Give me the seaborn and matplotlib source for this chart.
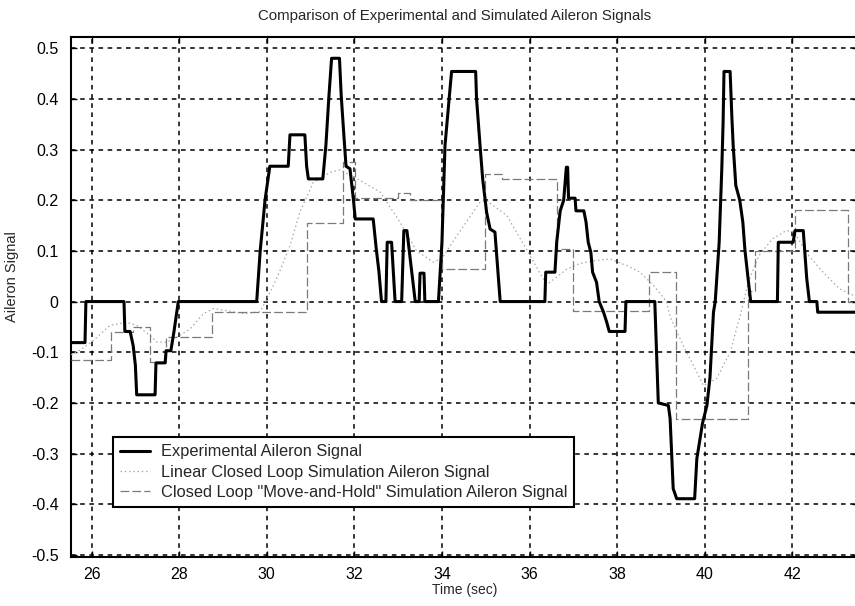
import numpy as np
import pandas as pd
import matplotlib
matplotlib.use("Agg")
import matplotlib.pyplot as plt
import seaborn as sns

# ---------------- data ----------------
exp_t = [25.53, 25.85, 25.87, 26.74, 26.76, 26.88, 26.95, 27.00, 27.03, 27.45, 27.47, 27.68,
         27.70, 27.81, 27.88, 27.98, 29.77, 29.85, 29.92, 29.96, 30.07, 30.49, 30.53, 30.87,
         30.91, 30.95, 31.28, 31.35, 31.42, 31.48, 31.66, 31.70, 31.76, 31.81, 31.90, 31.98,
         32.02, 32.43, 32.50, 32.56, 32.62, 32.72, 32.75, 32.85, 32.93, 33.08, 33.13, 33.20,
         33.39, 33.48, 33.50, 33.59, 33.61, 33.92, 34.00, 34.07, 34.17, 34.22, 34.77, 34.79,
         34.87, 34.93, 35.02, 35.10, 35.21, 35.33, 36.35, 36.37, 36.58, 36.62, 36.70, 36.78,
         36.84, 36.87, 36.89, 37.04, 37.06, 37.24, 37.29, 37.34, 37.40, 37.44, 37.53, 37.59,
         37.69, 37.76, 37.82, 38.18, 38.20, 38.86, 38.90, 38.94, 39.17, 39.21, 39.28, 39.36,
         39.77, 39.82, 39.95, 40.05, 40.12, 40.20, 40.24, 40.33, 40.39, 40.42, 40.44, 40.58,
         40.62, 40.65, 40.71, 40.80, 40.87, 40.92, 41.00, 41.05, 41.66, 41.68, 42.02, 42.06,
         42.25, 42.33, 42.39, 42.56, 42.58, 43.50]
exp_y = [-0.081, -0.081, 0.000, 0.000, -0.059, -0.059, -0.087, -0.126, -0.184, -0.184, -0.121, -0.121,
         -0.097, -0.097, -0.060, 0.000, 0.000, 0.100, 0.163, 0.200, 0.267, 0.267, 0.329, 0.329,
         0.267, 0.242, 0.242, 0.308, 0.406, 0.480, 0.480, 0.406, 0.329, 0.267, 0.262, 0.200,
         0.163, 0.163, 0.104, 0.060, 0.000, 0.000, 0.117, 0.117, 0.000, 0.000, 0.140, 0.140,
         0.000, 0.000, 0.056, 0.056, 0.000, 0.000, 0.117, 0.308, 0.406, 0.454, 0.454, 0.400,
         0.308, 0.242, 0.176, 0.143, 0.137, 0.000, 0.000, 0.058, 0.058, 0.117, 0.179, 0.200,
         0.265, 0.265, 0.204, 0.204, 0.179, 0.179, 0.157, 0.117, 0.097, 0.058, 0.038, 0.000,
         -0.021, -0.040, -0.059, -0.059, 0.000, 0.000, -0.100, -0.200, -0.205, -0.231, -0.369, -0.389,
         -0.389, -0.310, -0.240, -0.205, -0.150, -0.021, 0.000, 0.117, 0.262, 0.354, 0.454, 0.454,
         0.364, 0.308, 0.229, 0.200, 0.157, 0.100, 0.038, 0.000, 0.000, 0.117, 0.117, 0.140,
         0.140, 0.045, 0.000, 0.000, -0.021, -0.021]

lin_t = [25.53, 25.75, 26.04, 26.42, 26.80, 27.03, 27.34, 27.49, 27.72, 27.95, 28.25, 28.55,
         28.78, 29.09, 29.47, 29.85, 30.00, 30.25, 30.53, 30.76, 31.06, 31.45, 31.67, 32.13,
         32.59, 33.04, 33.42, 33.80, 34.00, 34.34, 34.87, 35.00, 35.48, 36.01, 36.31, 36.42,
         36.85, 37.15, 37.50, 37.84, 38.22, 38.52, 38.83, 39.13, 39.21, 39.51, 39.82, 39.97,
         40.27, 40.58, 40.81, 41.00, 41.24, 41.55, 41.86, 42.05, 42.31, 42.70, 43.08, 43.50]
lin_y = [-0.105, -0.095, -0.077, -0.047, -0.041, -0.047, -0.067, -0.080, -0.080, -0.070, -0.054, -0.024,
         -0.014, -0.018, -0.024, -0.020, 0.005, 0.050, 0.110, 0.177, 0.235, 0.255, 0.260, 0.239,
         0.216, 0.157, 0.100, 0.078, 0.085, 0.130, 0.196, 0.200, 0.170, 0.091, 0.045, 0.035,
         0.064, 0.075, 0.081, 0.084, 0.071, 0.058, 0.032, 0.000, -0.030, -0.087, -0.139, -0.166,
         -0.152, -0.100, -0.028, 0.040, 0.091, 0.124, 0.140, 0.137, 0.097, 0.058, 0.025, 0.008]

mh_t = [25.53, 26.45, 26.95, 27.34, 27.70, 28.74, 30.91, 31.75, 32.02, 33.00, 33.27, 34.00,
        34.98, 35.36, 36.62, 37.00, 38.73, 39.35, 40.98, 41.15, 42.06, 43.28, 43.50]
mh_y = [-0.116, -0.060, -0.050, -0.120, -0.070, -0.020, 0.155, 0.275, 0.205, 0.215, 0.200, 0.065,
        0.252, 0.241, 0.104, -0.018, 0.058, -0.231, 0.020, 0.100, 0.180, 0.000, 0.000]

labels = ["Experimental Aileron Signal",
          "Linear Closed Loop Simulation Aileron Signal",
          "Closed Loop \"Move-and-Hold\" Simulation Aileron Signal"]
x_ticks = [26, 28, 30, 32, 34, 36, 38, 40, 42]
y_ticks = [-0.5, -0.4, -0.3, -0.2, -0.1, 0, 0.1, 0.2, 0.3, 0.4, 0.5]
y_tick_labels = ["-0.5", "-0.4", "-0.3", "-0.2", "-0.1", "0", "0.1", "0.2", "0.3", "0.4", "0.5"]

# ---------------- style ----------------
sns.set_theme(style="white")
plt.rcParams["font.family"] = ["Liberation Sans", "DejaVu Sans"]

W, H = 855, 606
fig = plt.figure(figsize=(W / 100, H / 100), dpi=100)
ax = fig.add_axes([71 / W, 1 - 557 / H, (858 - 71) / W, (557 - 37) / H])

df_exp = pd.DataFrame({"t": exp_t, "y": exp_y})
df_lin = pd.DataFrame({"t": lin_t, "y": lin_y})
df_mh = pd.DataFrame({"t": mh_t, "y": mh_y})

sns.lineplot(data=df_lin, x="t", y="y", ax=ax, sort=False, estimator=None,
             color="#a8a8a8", linewidth=0.9, linestyle=(0, (1.2, 2.2)), zorder=3)
sns.lineplot(data=df_mh, x="t", y="y", ax=ax, sort=False, estimator=None,
             color="#7a7a7a", linewidth=0.9, linestyle=(0, (7, 2.5)), drawstyle="steps-post", zorder=3)
sns.lineplot(data=df_exp, x="t", y="y", ax=ax, sort=False, estimator=None,
             color="black", linewidth=2.2, zorder=4)

lines = ax.get_lines()
h_lin, h_mh, h_exp = lines[0], lines[1], lines[2]

ax.set_xlim(25.53, 43.5)
ax.set_ylim(-0.504, 0.522)
ax.set_xticks(x_ticks)
ax.set_xticklabels([str(v) for v in x_ticks])
ax.set_yticks(y_ticks)
ax.set_yticklabels(y_tick_labels)

ax.grid(True, color="black", linestyle=(0, (3, 3)), linewidth=1.1)
ax.set_axisbelow(True)
for s in ax.spines.values():
    s.set_color("black")
    s.set_linewidth(1.5)
    s.set_visible(True)
ax.tick_params(direction="in", length=4, width=1, colors="black", labelsize=11.5,
               top=True, right=True, left=True, bottom=True)
ax.tick_params(axis="x", pad=7)
ax.tick_params(axis="y", pad=9)

ax.set_title("Comparison of Experimental and Simulated Aileron Signals", fontsize=10.8, pad=12,
             x=(455 - 71) / 787)
ax.set_xlabel("Time (sec)", fontsize=10)
ax.set_ylabel("Aileron Signal", fontsize=10.5)
ax.xaxis.set_label_coords(0.5, (557 - 583) / 520)
ax.yaxis.set_label_coords((19 - 71) / 787, (557 - 277) / 520)

leg = ax.legend([h_exp, h_lin, h_mh], labels, loc="upper left",
                bbox_to_anchor=(113 / W, 1 - 437 / H), bbox_transform=fig.transFigure,
                fontsize=11.8, frameon=True, fancybox=False, shadow=False, framealpha=1,
                edgecolor="black", borderpad=0.45, labelspacing=0.32, handlelength=1.8,
                handletextpad=0.65, borderaxespad=0)
leg.get_frame().set_linewidth(1.5)

fig.savefig("out.png", dpi=100)
